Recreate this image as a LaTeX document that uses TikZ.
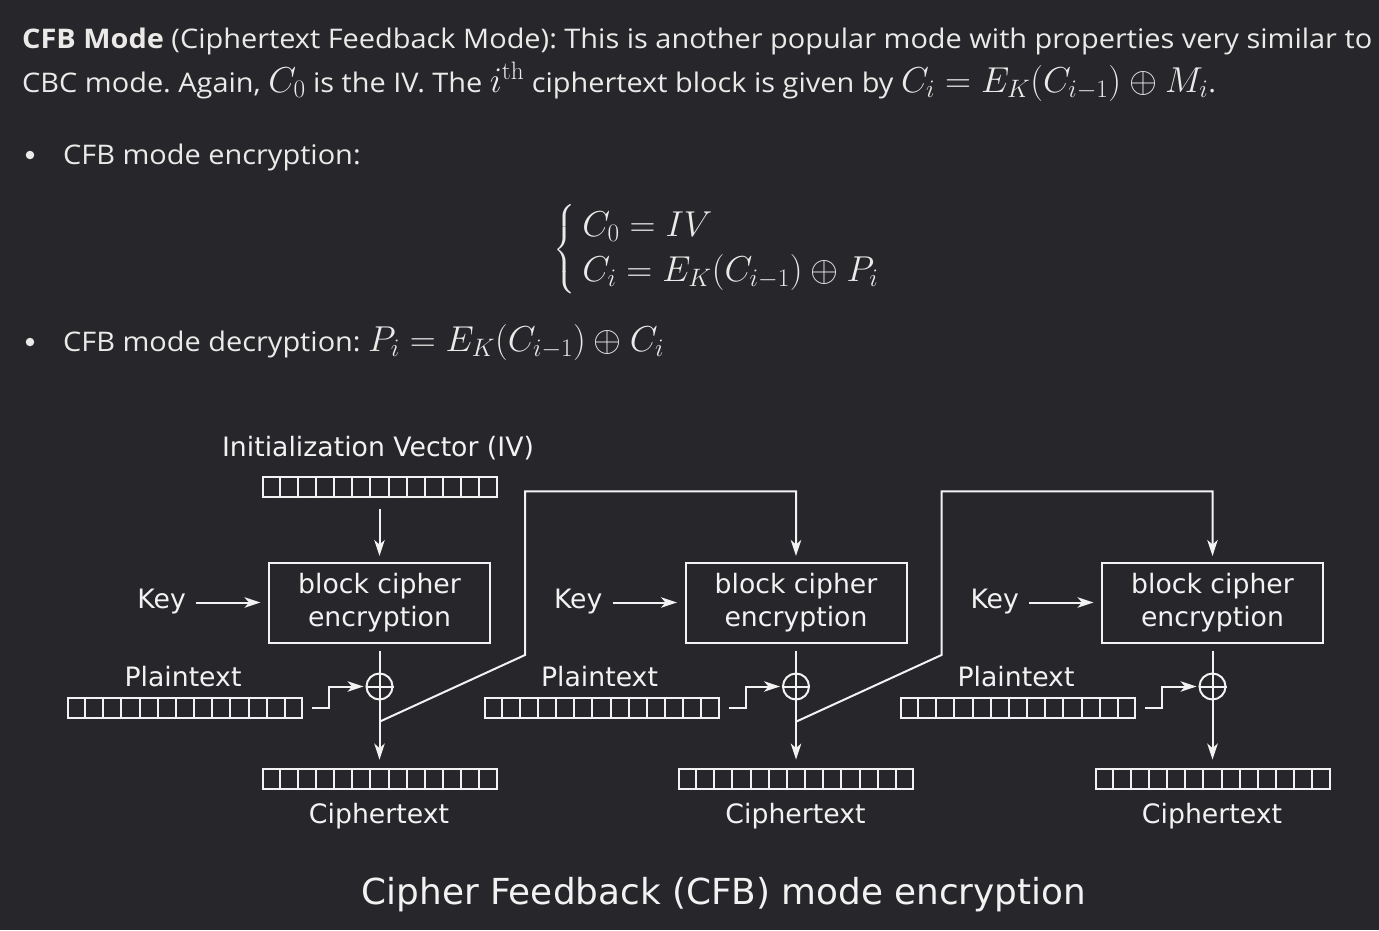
\RequirePackage{fix-cm}
\documentclass[tikz,border=0pt]{standalone}
\usepackage{amsmath}
\usepackage{fontspec}
\usetikzlibrary{arrows.meta,calc}
\frenchspacing
\newfontfamily\probefont{Open Sans}
\newsavebox\probebox
\newlength\probelen
\sbox\probebox{\probefont\fontsize{27}{30}\selectfont\textbf{CFB Mode} (Ciphertext Feedback Mode): This is another popular mode with properties very similar to}
\setlength\probelen{\wd\probebox}
\pgfmathsetmacro\segstretch{1350pt/\probelen}
\edef\tmpdef{\noexpand\newfontfamily\noexpand\seg[FakeStretch=\segstretch]{Open Sans}}
\tmpdef
\newfontfamily\djv{DejaVu Sans}
\definecolor{bgc}{RGB}{39,39,43}
\definecolor{fg}{RGB}{236,234,232}
\definecolor{lc}{RGB}{242,242,242}
\newcommand\mth[1]{{\fontsize{36}{40}\selectfont$#1$}}
\newcommand\regcells[1]{\foreach \k in {1,...,12} \draw[ln] ($(#1.south west)!\k/13!(#1.south east)$) -- ($(#1.north west)!\k/13!(#1.north east)$);}
\tikzset{
 segtxt/.style={text=fg, font=\seg\fontsize{27}{30}\selectfont, inner sep=0pt},
 dot/.style={circle, fill=fg, minimum size=8.5pt, inner sep=0pt},
 reg/.style={draw=lc, line width=2pt, minimum width=234pt, minimum height=20.3pt, inner sep=0pt},
 blk/.style={draw=lc, line width=2pt, minimum width=221pt, minimum height=80pt, inner sep=0pt, align=center, text=lc, font=\djv\fontsize{26.7}{33.3}\selectfont},
 lab/.style={text=lc, font=\djv\fontsize{26.7}{30}\selectfont, inner sep=2pt},
 xorn/.style={draw=lc, line width=2pt, circle, minimum size=26pt, inner sep=0pt},
 ln/.style={draw=lc, line width=2pt},
 arr/.style={ln, -{Stealth[length=16pt,width=10.5pt,inset=4.5pt]}},
}
\begin{document}
\begin{tikzpicture}[x=1pt,y=-1pt]
\useasboundingbox (0,0) rectangle (1379,930);
\fill[bgc] (0,0) rectangle (1379,930);
% text
\node[segtxt, anchor=base west] (l1) at (22,48.3) {\textbf{CFB Mode} (Ciphertext Feedback Mode): This is another popular mode with properties very similar to};
\node[segtxt, anchor=base west] (l2) at (22,92.3) {CBC mode. Again, \mth{C_0} is the IV. The \mth{i^{\mathrm{th}}} ciphertext block is given by \mth{C_i = E_K(C_{i-1}) \oplus M_i}.};
\node[dot] (b1) at (30,155) {};
\node[segtxt, anchor=base west] (t1) at (63,164) {CFB mode encryption:};
\node[text=fg, inner sep=0pt, anchor=west, font=\fontsize{36}{37.5}\selectfont] (cs) at (553,249.5) {$\renewcommand\arraystretch{1.2}\left\{\hspace{7pt}\begin{array}{@{}l@{}} C_0 = IV \\ C_i = E_K(C_{i-1}) \oplus P_i \end{array}\right.$};
\node[dot] (b2) at (30,342) {};
\node[segtxt, anchor=base west] (t2) at (63,351) {CFB mode decryption: \mth{P_i = E_K(C_{i-1}) \oplus C_i}};
% diagram
\node[lab, anchor=base] (ivl) at (378,456) {Initialization Vector (IV)};
\node[reg] (iv) at (379.5,487.2) {}; \regcells{iv}
\foreach \i in {0,1,2}{
 \pgfmathsetmacro\dx{416.5*\i}
 \node[blk] (blk\i) at (379.5+\dx,602.5) {block cipher\\encryption};
 \node[lab, anchor=base] (key\i) at (161.7+\dx,608.3) {Key};
 \node[xorn] (xor\i) at (379.5+\dx,686.5) {};
 \node[lab, anchor=base] (ptl\i) at (183+\dx,686.7) {Plaintext};
 \node[reg] (pt\i) at (185+\dx,708.3) {}; \regcells{pt\i}
 \node[reg] (ct\i) at (379.5+\dx,779.2) {}; \regcells{ct\i}
 \node[lab, anchor=base] (ctl\i) at (379+\dx,823.3) {Ciphertext};
 \draw[arr, shorten <=8pt, shorten >=7.5pt] (key\i.east |- blk\i.west) -- (blk\i.west);
 \draw[arr, shorten <=7pt, shorten >=8.5pt] (blk\i) -- (ct\i);
 \draw[ln] (xor\i.west) -- (xor\i.east);
 \coordinate (ps\i) at ($(pt\i.east)+(9,0)$);
 \draw[arr, shorten >=2pt] (ps\i) -- ++(17,0) |- (xor\i.west);
 \coordinate (jn\i) at (379.5+\dx,721.7);
}
\draw[arr, shorten <=11pt, shorten >=5.5pt] (iv) -- (blk0);
\foreach \i/\j in {0/1,1/2}{
 \pgfmathsetmacro\dx{416.5*\i}
 \coordinate (bd\i) at (525+\dx,655);
 \coordinate (tp\i) at (525+\dx,491.3);
 \draw[arr, shorten >=5.5pt] (jn\i) -- (bd\i) -- (tp\i) -| (blk\j.north);
}
\node[text=lc, font=\djv\fontsize{35.8}{40}\selectfont, anchor=base, inner sep=0pt] (cap) at (724,904.5) {Cipher Feedback (CFB) mode encryption};
\end{tikzpicture}
\end{document}
